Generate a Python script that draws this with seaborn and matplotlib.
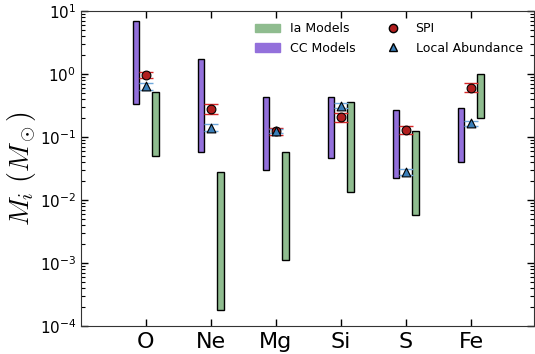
import matplotlib
matplotlib.use("Agg")
import matplotlib.pyplot as plt
import seaborn as sns
import numpy as np
import pandas as pd
from matplotlib.patches import Patch
from matplotlib.lines import Line2D
from matplotlib.ticker import LogLocator, NullFormatter

elements = ['O', 'Ne', 'Mg', 'Si', 'S', 'Fe']
cc_lo = [0.34, 0.057, 0.030, 0.046, 0.022, 0.040]
cc_hi = [6.9, 1.7, 0.43, 0.43, 0.27, 0.285]
ia_lo = [0.050, 1.8e-4, 0.0011, 0.0134, 0.0058, 0.198]
ia_hi = [0.51, 0.0275, 0.057, 0.355, 0.126, 1.0]
spi = [0.96, 0.28, 0.123, 0.21, 0.13, 0.61]
spi_upper = [1.07, 0.33, 0.140, 0.243, 0.15, 0.71]
spi_lower = [0.855, 0.232, 0.108, 0.173, 0.111, 0.52]
local = [0.64, 0.140, 0.125, 0.314, 0.0278, 0.165]
local_upper = [0.71, 0.16, 0.135, 0.35, 0.031, 0.18]
local_lower = [0.56, 0.125, 0.117, 0.29, 0.025, 0.152]

sns.set_style("ticks")
plt.rcParams['font.family'] = ['DejaVu Sans']
plt.rcParams['mathtext.fontset'] = 'cm'
plt.rcParams['text.color'] = 'black'
plt.rcParams['xtick.color'] = 'black'
plt.rcParams['ytick.color'] = 'black'
plt.rcParams['axes.labelcolor'] = 'black'

fig = plt.figure(figsize=(5.35, 3.54), dpi=100)
ax = fig.add_axes([81/535, 1-326/354, 453/535, 315/354])

x = np.arange(1, len(elements) + 1)
off = 0.15
w = 0.1
cc_col = '#9370DB'
ia_col = '#8FBC8F'

ax.bar(x - off, np.array(cc_hi) - np.array(cc_lo), bottom=cc_lo, width=w,
       color=cc_col, edgecolor='black', linewidth=1.0, zorder=2)
ax.bar(x + off, np.array(ia_hi) - np.array(ia_lo), bottom=ia_lo, width=w,
       color=ia_col, edgecolor='black', linewidth=1.0, zorder=2)

spi_a = np.array(spi)
loc_a = np.array(local)
ax.errorbar(x, spi_a, yerr=[spi_a - np.array(spi_lower), np.array(spi_upper) - spi_a],
            fmt='none', ecolor='#d62728', elinewidth=1.0, capsize=5, capthick=1.0, zorder=3)
ax.errorbar(x, loc_a, yerr=[loc_a - np.array(local_lower), np.array(local_upper) - loc_a],
            fmt='none', ecolor='#6fa8dc', elinewidth=1.0, capsize=5, capthick=1.0, zorder=3)

df_spi = pd.DataFrame({'x': x, 'y': spi})
df_loc = pd.DataFrame({'x': x, 'y': local})
sns.scatterplot(data=df_spi, x='x', y='y', ax=ax, marker='o', s=40,
                color='#B01E1E', edgecolor='black', linewidth=0.8, zorder=4)
sns.scatterplot(data=df_loc, x='x', y='y', ax=ax, marker='^', s=40,
                color='#3A7EB8', edgecolor='black', linewidth=0.8, zorder=4)

ax.set_yscale('log')
ax.set_ylim(1e-4, 10)
ax.yaxis.set_minor_locator(LogLocator(base=10, subs=np.arange(2, 10), numticks=20))
ax.yaxis.set_minor_formatter(NullFormatter())
ax.set_xlim(0, 6.97)
ax.set_xticks(x)
ax.set_xticklabels(elements, fontsize=16)
ax.set_xlabel('')
ax.set_ylabel(r'$M_i\ (M_\odot)$', fontsize=20, labelpad=1)
ax.tick_params(axis='both', which='both', direction='in', top=True, right=True)
ax.tick_params(axis='both', which='major', length=5, width=1.0)
ax.tick_params(axis='both', which='minor', length=3, width=0.8)
ax.tick_params(axis='y', labelsize=11)
ax.tick_params(axis='x', pad=4)
for s in ax.spines.values():
    s.set_color('#333333')

handles = [Patch(color=ia_col, label='Ia Models'),
           Patch(color=cc_col, label='CC Models'),
           Line2D([], [], marker='o', linestyle='none', markerfacecolor='#B01E1E',
                  markeredgecolor='black', markersize=6, label='SPI'),
           Line2D([], [], marker='^', linestyle='none', markerfacecolor='#3A7EB8',
                  markeredgecolor='black', markersize=6, label='Local Abundance')]
ax.legend(handles=handles, ncol=2, frameon=False, loc='upper right',
          fontsize=9, bbox_to_anchor=(1.0, 1.0), handlelength=2.0, columnspacing=2.0)

fig.savefig('out.png', dpi=100)
